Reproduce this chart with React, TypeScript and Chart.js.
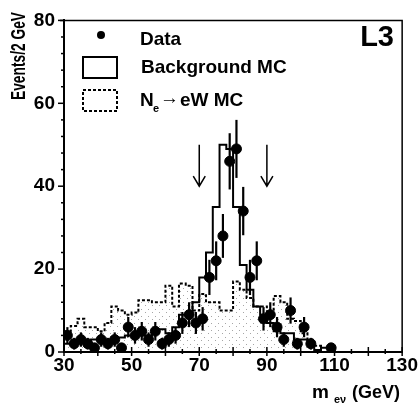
import React, { useEffect, useRef } from "react";
import { Chart, registerables } from "chart.js";
Chart.register(...registerables);

const binCenters = [31, 33, 35, 37, 39, 41, 43, 45, 47, 49, 51, 53, 55, 57, 59, 61, 63, 65, 67, 69, 71, 73, 75, 77, 79, 81, 83, 85, 87, 89, 91, 93, 95, 97, 99, 101, 103, 105, 107, 109];
const binWidth = 2;
const dataCounts = [4, 2, 3, 2, 1, 3, 2, 3, 1, 6, 4, 5, 3, 5, 2, 3, 4, 7, 9, 7, 8, 18, 22, 28, 46, 49, 34, 18, 22, 8, 9, 6, 3, 10, 2, 6, 2, 0, 0, 1];
const backgroundMC = [2, 2, 2, 2.5, 2.5, 3, 3, 3, 3.5, 3.5, 4, 4, 4, 4, 4.5, 5.5, 4.5, 6, 9, 9, 12, 18, 24, 35, 50, 49, 35, 21, 15, 11, 9, 7, 5, 4.5, 4.5, 3, 3, 2, 0.5, 1];
const signalMC = [8.5, 5, 6.3, 8, 6, 6, 5, 7, 11, 10, 9, 9.5, 12.5, 12.5, 12, 12, 16, 11, 16.5, 16, 10, 14, 12, 12, 10, 10, 17, 15, 13, 11, 11, 9, 13.5, 12, 8, 7.5, 4.5, 3, 1.5, 0];
const arrowPositions = [70, 90];
const arrowRange = [50, 40];
const xRange = [30, 130];
const yRange = [0, 80];
const FONT = '"Liberation Sans", Arial, sans-serif';

function stepPoints(values: number[]) {
  const pts = binCenters.map((c, i) => ({ x: c - binWidth / 2, y: values[i] }));
  const last = binCenters[binCenters.length - 1] + binWidth / 2;
  pts.push({ x: last, y: values[values.length - 1] });
  pts.push({ x: last, y: 0 });
  return pts;
}

const decor = {
  id: "decor",
  afterDatasetsDraw(chart: any) {
    const { ctx, scales } = chart;
    const x = scales.x, y = scales.y;
    ctx.save();
    ctx.strokeStyle = "#000";
    ctx.lineWidth = 2.2;
    binCenters.forEach((c, i) => {
      const n = dataCounts[i];
      if (n <= 0) return;
      const e = Math.sqrt(n);
      const px = x.getPixelForValue(c);
      ctx.beginPath();
      ctx.moveTo(px, y.getPixelForValue(n + e));
      ctx.lineTo(px, y.getPixelForValue(Math.max(0, n - e)));
      ctx.stroke();
    });
    // arrows
    ctx.lineWidth = 1.5;
    arrowPositions.forEach((v) => {
      const px = x.getPixelForValue(v);
      const top = y.getPixelForValue(arrowRange[0]);
      const tip = y.getPixelForValue(arrowRange[1]);
      ctx.beginPath();
      ctx.moveTo(px, top);
      ctx.lineTo(px, tip);
      ctx.moveTo(px - 6, tip - 10);
      ctx.lineTo(px, tip);
      ctx.lineTo(px + 6, tip - 10);
      ctx.stroke();
    });
    ctx.restore();
  },
  afterDraw(chart: any) {
    const { ctx, chartArea: a, scales } = chart;
    const x = scales.x, y = scales.y;
    ctx.save();
    ctx.strokeStyle = "#000";
    ctx.lineWidth = 1.5;
    ctx.beginPath();
    ctx.moveTo(a.left - 4, a.top);
    ctx.lineTo(a.right, a.top);
    ctx.lineTo(a.right, a.bottom);
    ctx.stroke();
    for (let v = xRange[0]; v <= xRange[1]; v += 5) {
      const px = x.getPixelForValue(v);
      const major = v % 10 === 0;
      ctx.beginPath();
      ctx.moveTo(px, a.bottom - (major ? 5 : 3));
      ctx.lineTo(px, a.bottom + (major ? 4 : 2));
      ctx.stroke();
    }
    for (let v = yRange[0]; v <= yRange[1]; v += 4) {
      const py = y.getPixelForValue(v);
      const major = v % 20 === 0;
      ctx.beginPath();
      ctx.moveTo(a.left - (major ? 6 : 3), py);
      ctx.lineTo(a.left, py);
      ctx.stroke();
    }
    ctx.fillStyle = "#000";
    ctx.beginPath();
    ctx.arc(101, 35, 4, 0, Math.PI * 2);
    ctx.fill();
    ctx.lineWidth = 2;
    ctx.strokeRect(83, 57, 34, 21);
    ctx.setLineDash([3, 2]);
    ctx.strokeRect(83, 90, 34, 21);
    ctx.setLineDash([]);
    ctx.font = `bold 19px ${FONT}`;
    ctx.textBaseline = "alphabetic";
    ctx.textAlign = "left";
    ctx.fillText("Data", 140, 45);
    ctx.fillText("Background MC", 141, 73);
    ctx.fillText("N", 140, 106);
    ctx.font = `bold 11px ${FONT}`;
    ctx.fillText("e", 153, 112);
    ctx.font = `bold 19px ${FONT}`;
    ctx.fillText("\u2192", 160, 104);
    ctx.fillText("eW MC", 180, 106);
    ctx.font = `bold 29px ${FONT}`;
    ctx.textAlign = "right";
    ctx.fillText("L3", 394, 46);
    ctx.save();
    ctx.translate(25, 100);
    ctx.rotate(-Math.PI / 2);
    ctx.textAlign = "left";
    ctx.font = `bold 21px ${FONT}`;
    ctx.fillText("Events/2 GeV", 0, 0, 88);
    ctx.restore();
    ctx.textAlign = "left";
    ctx.font = `bold 19px ${FONT}`;
    ctx.fillText("m", 312, 398);
    ctx.font = `bold 11px ${FONT}`;
    ctx.fillText("e\u03bd", 334, 403);
    ctx.font = `bold 18px ${FONT}`;
    ctx.fillText("(GeV)", 352, 398);
    ctx.restore();
  },
};

export default function App() {
  const ref = useRef<HTMLCanvasElement>(null);
  useEffect(() => {
    document.body.style.margin = "0";
    const canvas = ref.current!;
    const ctx = canvas.getContext("2d")!;
    const tile = document.createElement("canvas");
    tile.width = 7;
    tile.height = 7;
    const tctx = tile.getContext("2d")!;
    tctx.fillStyle = "rgba(0,0,0,0.35)";
    tctx.fillRect(1, 1, 1, 1);
    tctx.fillRect(5, 4, 1, 1);
    const pattern = ctx.createPattern(tile, "repeat");

    const chart = new Chart(canvas, {
      type: "line",
      data: {
        datasets: [
          {
            type: "scatter",
            label: "Data",
            data: binCenters.map((c, i) => ({ x: c, y: dataCounts[i] })).filter((p) => p.y > 0),
            backgroundColor: "#000",
            borderColor: "#000",
            pointRadius: 5,
            pointHoverRadius: 5,
            showLine: false,
            order: 0,
          } as any,
          {
            label: "Background MC",
            data: stepPoints(backgroundMC),
            stepped: "after",
            borderColor: "#000",
            borderWidth: 2,
            pointRadius: 0,
            fill: false,
            order: 1,
          },
          {
            label: "Ne->eW MC",
            data: stepPoints(signalMC),
            stepped: "after",
            borderColor: "#000",
            borderWidth: 2,
            borderDash: [3, 2],
            pointRadius: 0,
            fill: "origin",
            backgroundColor: pattern as any,
            order: 2,
          },
        ],
      },
      options: {
        animation: false,
        responsive: false,
        layout: { padding: { top: 15, right: 17, left: 0, bottom: 0 } },
        plugins: { legend: { display: false }, tooltip: { enabled: false } },
        scales: {
          x: {
            type: "linear",
            min: xRange[0],
            max: xRange[1],
            afterFit: (s: any) => { s.height = 53; },
            ticks: { stepSize: 20, color: "#000", font: { family: FONT, size: 19, weight: "bold" }, padding: 2, maxRotation: 0 },
            grid: { display: false, drawTicks: false },
            border: { display: true, color: "#000", width: 2 },
          },
          y: {
            type: "linear",
            min: yRange[0],
            max: yRange[1],
            afterFit: (s: any) => { s.width = 64; },
            ticks: { stepSize: 20, color: "#000", font: { family: FONT, size: 19, weight: "bold" }, padding: 9 },
            grid: { display: false, drawTicks: false },
            border: { display: true, color: "#000", width: 2 },
          },
        },
      },
      plugins: [decor],
    });
    return () => chart.destroy();
  }, []);
  return (
    <div style={{ width: 420, height: 405 }}>
      <canvas ref={ref} width={420} height={405} style={{ display: "block" }} />
    </div>
  );
}
